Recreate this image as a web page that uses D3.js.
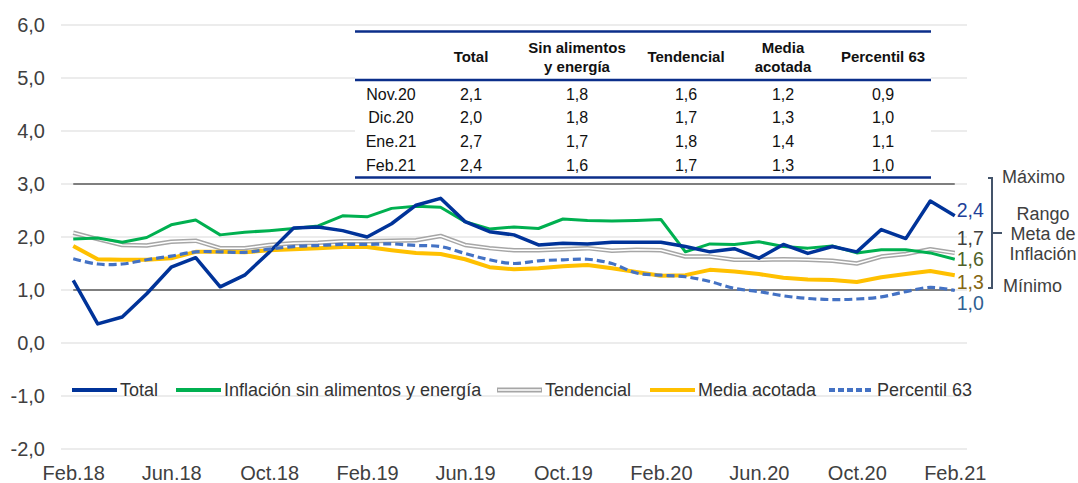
<!DOCTYPE html>
<html>
<head>
<meta charset="utf-8">
<script src="https://d3js.org/d3.v7.min.js"></script>
<style>
  body { margin: 0; background: #fff; }
  text { font-family: "Liberation Sans", Arial, sans-serif; }
</style>
</head>
<body>
<script>
// months, Feb.18 .. Feb.21
const months = [
  "Feb.18","Mar.18","Abr.18","May.18","Jun.18","Jul.18","Ago.18","Set.18","Oct.18","Nov.18","Dic.18",
  "Ene.19","Feb.19","Mar.19","Abr.19","May.19","Jun.19","Jul.19","Ago.19","Set.19","Oct.19","Nov.19","Dic.19",
  "Ene.20","Feb.20","Mar.20","Abr.20","May.20","Jun.20","Jul.20","Ago.20","Set.20","Oct.20","Nov.20","Dic.20",
  "Ene.21","Feb.21"
];

// series (% 12 meses)
const total = [1.18,0.36,0.49,0.93,1.43,1.61,1.06,1.28,1.71,2.17,2.19,2.12,2.00,2.25,2.60,2.73,2.29,2.10,2.04,1.85,1.88,1.87,1.90,1.90,1.90,1.82,1.72,1.78,1.60,1.86,1.69,1.82,1.72,2.14,1.97,2.68,2.40];
const sae = [1.96,1.98,1.90,1.99,2.23,2.32,2.04,2.09,2.12,2.16,2.21,2.40,2.38,2.54,2.58,2.56,2.29,2.15,2.19,2.16,2.34,2.31,2.30,2.31,2.33,1.72,1.87,1.86,1.91,1.82,1.79,1.83,1.70,1.76,1.76,1.70,1.58];
const tendencial = [2.08,1.96,1.85,1.84,1.91,1.93,1.79,1.79,1.85,1.88,1.89,1.92,1.92,1.93,1.94,2.02,1.85,1.79,1.75,1.75,1.77,1.79,1.74,1.76,1.75,1.63,1.63,1.57,1.57,1.58,1.57,1.55,1.50,1.63,1.68,1.77,1.70];
const mediaAcotada = [1.83,1.58,1.57,1.57,1.60,1.72,1.72,1.71,1.75,1.77,1.79,1.81,1.81,1.75,1.70,1.68,1.58,1.43,1.39,1.41,1.45,1.47,1.41,1.34,1.27,1.28,1.38,1.35,1.30,1.23,1.20,1.19,1.15,1.24,1.30,1.36,1.28];
const percentil63 = [1.59,1.49,1.49,1.57,1.64,1.72,1.72,1.71,1.77,1.82,1.84,1.86,1.86,1.87,1.84,1.82,1.69,1.57,1.50,1.55,1.57,1.58,1.50,1.32,1.28,1.25,1.16,1.03,0.97,0.89,0.84,0.82,0.83,0.87,0.97,1.05,0.99];

// target range
const targetRange = [1, 3];

// axis ticks
const yTicks = [-2, -1, 0, 1, 2, 3, 4, 5, 6];
const xTickLabels = ["Feb.18","Jun.18","Oct.18","Feb.19","Jun.19","Oct.19","Feb.20","Jun.20","Oct.20","Feb.21"];

// table
const tableHeaders = [["Total"], ["Sin alimentos", "y energía"], ["Tendencial"], ["Media", "acotada"], ["Percentil 63"]];
const tableRows = ["Nov.20", "Dic.20", "Ene.21", "Feb.21"];
const tableValues = [
  [2.1, 1.8, 1.6, 1.2, 0.9],
  [2.0, 1.8, 1.7, 1.3, 1.0],
  [2.7, 1.7, 1.8, 1.4, 1.1],
  [2.4, 1.6, 1.7, 1.3, 1.0]
];

const W = 1078, H = 483;
const svg = d3.select("body").append("svg")
  .attr("width", W).attr("height", H);

const locale = d3.formatLocale({decimal: ",", thousands: ".", grouping: [3], currency: ["", ""], minus: "-"});
const fmt = locale.format(".1f");

const x = d3.scalePoint().domain(months).range([61, 967]).padding(0.5);
const y = d3.scaleLinear().domain([-2, 6]).range([449, 25]);

// gridlines
svg.append("g").selectAll("line")
  .data(yTicks)
  .join("line")
  .attr("x1", 61).attr("x2", 967)
  .attr("y1", d => y(d)).attr("y2", d => y(d))
  .attr("stroke", "#d9d9d9").attr("stroke-width", 1);

// y axis
const yAxis = svg.append("g")
  .attr("transform", "translate(61,0)")
  .call(d3.axisLeft(y).tickValues(yTicks).tickSize(0).tickPadding(16).tickFormat(fmt));
yAxis.select(".domain").remove();
yAxis.selectAll("text").attr("font-size", 20).attr("fill", "#404040")
  .style("font-family", "'Liberation Sans', Arial, sans-serif");

// x axis
const xAxis = svg.append("g")
  .attr("transform", "translate(0,449)")
  .call(d3.axisBottom(x).tickValues(xTickLabels).tickSize(0).tickPadding(17));
xAxis.select(".domain").remove();
xAxis.selectAll("text").attr("font-size", 20).attr("fill", "#404040")
  .style("font-family", "'Liberation Sans', Arial, sans-serif");

// target range lines
svg.append("g").selectAll("line")
  .data(targetRange)
  .join("line")
  .attr("x1", x(months[0])).attr("x2", x(months[months.length - 1]))
  .attr("y1", d => y(d)).attr("y2", d => y(d))
  .attr("stroke", "#7f7f7f").attr("stroke-width", 2);

// series
const line = d3.line().x((d, i) => x(months[i])).y(d => y(d));
const smooth = d3.line().x((d, i) => x(months[i])).y(d => y(d)).curve(d3.curveCatmullRom.alpha(0.5));

const series = [
  {name: "Total", values: total, color: "#003399", width: 3.5},
  {name: "Inflación sin alimentos y energía", values: sae, color: "#00b050", width: 3},
  {name: "Tendencial", values: tendencial, color: "#a6a6a6", width: 4.5, double: true},
  {name: "Media acotada", values: mediaAcotada, color: "#ffc000", width: 4},
  {name: "Percentil 63", values: percentil63, color: "#4472c4", width: 3.2, dash: "8,4", smooth: true}
];

const drawOrder = [2, 3, 1, 0, 4];
drawOrder.forEach(k => {
  const s = series[k];
  svg.append("path")
    .attr("d", (s.smooth ? smooth : line)(s.values))
    .attr("fill", "none")
    .attr("stroke", s.color)
    .attr("stroke-width", s.width)
    .attr("stroke-dasharray", s.dash || null)
    .attr("stroke-linejoin", "round");
  if (s.double) {
    svg.append("path")
      .attr("d", line(s.values))
      .attr("fill", "none")
      .attr("stroke", "#fff")
      .attr("stroke-width", 1.5)
      .attr("stroke-linejoin", "round");
  }
});

// table
const tb = svg.append("g");
tb.append("rect").attr("x", 355).attr("y", 28).attr("width", 576).attr("height", 151).attr("fill", "#fff");
[31.5, 80, 177.5].forEach(ly => {
  tb.append("line").attr("x1", 355).attr("x2", 931).attr("y1", ly).attr("y2", ly)
    .attr("stroke", "#0b2e8a").attr("stroke-width", 2.5);
});
const colX = [471, 577, 686, 783, 883];
const rowY = [94, 117.5, 141.5, 165.5];
tableHeaders.forEach((h, j) => {
  h.forEach((t, k) => {
    tb.append("text")
      .attr("x", colX[j])
      .attr("y", h.length === 1 ? 56 : 47 + k * 19)
      .attr("text-anchor", "middle").attr("dominant-baseline", "central")
      .attr("font-size", 15).attr("font-weight", "bold").attr("fill", "#111")
      .text(t);
  });
});
tableRows.forEach((r, i) => {
  tb.append("text").attr("x", 391).attr("y", rowY[i])
    .attr("text-anchor", "middle").attr("dominant-baseline", "central")
    .attr("font-size", 16).attr("fill", "#111").text(r);
  tableValues[i].forEach((v, j) => {
    tb.append("text").attr("x", colX[j]).attr("y", rowY[i])
      .attr("text-anchor", "middle").attr("dominant-baseline", "central")
      .attr("font-size", 16).attr("fill", "#111").text(fmt(v));
  });
});

// end labels
const endLabels = [
  {values: total, color: "#213f99", nudge: -6},
  {values: tendencial, color: "#404040", nudge: -15},
  {values: sae, color: "#4f6228", nudge: 0},
  {values: mediaAcotada, color: "#846612", nudge: 7},
  {values: percentil63, color: "#305f91", nudge: 12.5}
];
endLabels.forEach(l => {
  const v = l.values[l.values.length - 1];
  svg.append("text")
    .attr("x", x(months[months.length - 1]) + 2)
    .attr("y", y(v) + l.nudge)
    .attr("dominant-baseline", "central")
    .attr("font-size", 19.5).attr("fill", l.color)
    .text(fmt(Math.round(v * 10) / 10));
});

// target range bracket
const bx = 992;
svg.append("path")
  .attr("d", `M${bx - 4},${y(targetRange[1]) - 6}H${bx}V${y(targetRange[0]) - 2}H${bx - 4}M${bx},${(y(targetRange[0]) + y(targetRange[1])) / 2 - 4}H${bx + 10}`)
  .attr("fill", "none").attr("stroke", "#44546a").attr("stroke-width", 2);

svg.append("text").attr("x", 1002).attr("y", 177).attr("dominant-baseline", "central")
  .attr("font-size", 18).attr("fill", "#404040").text("Máximo");
svg.append("text").attr("x", 1003).attr("y", 286).attr("dominant-baseline", "central")
  .attr("font-size", 18).attr("fill", "#404040").text("Mínimo");
["Rango", "Meta de", "Inflación"].forEach((t, i) => {
  svg.append("text").attr("x", 1043).attr("y", 214 + i * 20)
    .attr("text-anchor", "middle").attr("dominant-baseline", "central")
    .attr("font-size", 18).attr("fill", "#404040").text(t);
});

// legend
const legendX = [72, 176, 497, 650, 829];
const lg = svg.append("g").attr("transform", "translate(0,390)");
series.forEach((s, i) => {
  const g = lg.append("g").attr("transform", `translate(${legendX[i]},0)`);
  g.append("line").attr("x1", 0).attr("x2", 45).attr("y1", 0).attr("y2", 0)
    .attr("stroke", s.color).attr("stroke-width", s.double ? 5 : 4)
    .attr("stroke-dasharray", s.dash ? "6,3" : null);
  if (s.double) {
    g.append("line").attr("x1", 1).attr("x2", 44).attr("y1", 0).attr("y2", 0)
      .attr("stroke", "#fff").attr("stroke-width", 1.7);
  }
  g.append("text").attr("x", 48).attr("y", 0).attr("dominant-baseline", "central")
    .attr("font-size", 18).attr("fill", "#333").text(s.name);
});
</script>
</body>
</html>
